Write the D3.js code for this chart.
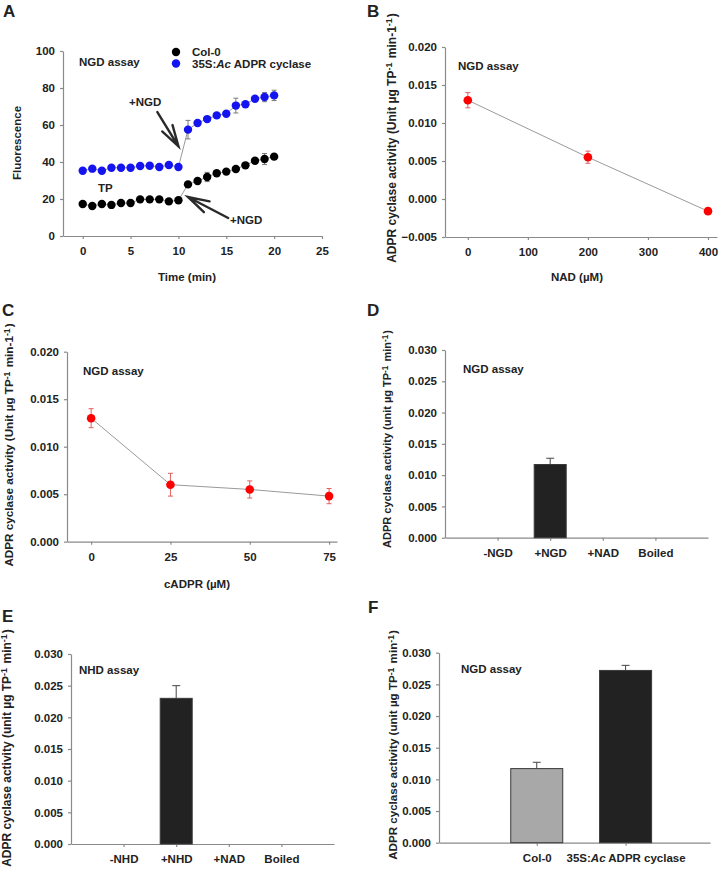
<!DOCTYPE html>
<html><head><meta charset="utf-8">
<script src="https://cdn.jsdelivr.net/npm/d3@7"></script>
<style>
body{margin:0;background:#fff}
svg text{font-family:"Liberation Sans",Arial,sans-serif;font-weight:bold;fill:#222}
</style>
</head><body><svg id="c" width="719" height="869"></svg>
<script>
// ---------- DATA ----------
// Panel A
const timeMin = [0,1,2,3,4,5,6,7,8,9,10,11,12,13,14,15,16,17,18,19,20];
const col0Fluor = [17.3,16.2,17.3,16.8,17.8,17.8,19.8,19.8,19.8,18.7,19.3,27.9,29.7,31.9,33.9,34.8,36.2,38.2,40.7,41.6,42.9];
const col0Err   = [1,1,1,1,1,1,1,1,1,1,1,1,1,2.5,1,1,1,1,1,3,1.5];
const acFluor   = [35.3,36.4,35.3,36.9,36.9,36.9,37.8,38.0,37.3,38.4,37.3,57.5,61.1,63.2,65.2,66.1,70.5,71.2,74.2,75.1,76.0];
const acErr     = [1,1,1,1,1,1,1,1,1,1,1,5,1,1,1,1,4,1.5,1,2.5,2.8];
const aXTicks = [0,5,10,15,20,25];
const aYTicks = [0,20,40,60,80,100];
// Panel B
const nadConc = [0,200,400];
const nadAct  = [0.0130,0.0055,-0.0016];
const nadErr  = [0.0010,0.0008,0.0003];
const bXTicks = [0,100,200,300,400];
const bYTicks = [-0.005,0,0.005,0.010,0.015,0.020];
// Panel C
const cadprConc = [0,25,50,75];
const cadprAct  = [0.0130,0.0060,0.0055,0.0048];
const cadprErr  = [0.0010,0.0012,0.0009,0.0008];
const cXTicks = [0,25,50,75];
const cYTicks = [0,0.005,0.010,0.015,0.020];
// Panel D
const dCats = ["-NGD","+NGD","+NAD","Boiled"];
const dVals = [0,0.0117,0,0];
const dErr  = [0,0.0010,0,0];
// Panel E
const eCats = ["-NHD","+NHD","+NAD","Boiled"];
const eVals = [0,0.0230,0,0];
const eErr  = [0,0.0020,0,0];
// Panel F
const fCats = ["Col-0","35S:Ac ADPR cyclase"];
const fVals = [0.0117,0.0272];
const fErr  = [0.0010,0.0008];
const barYTicks = [0,0.005,0.010,0.015,0.020,0.025,0.030];

// ---------- HELPERS ----------
const svg = d3.select("#c");
const AX = "#8a8a8a", FS = "11.5px";
const fmt3 = d3.format(".3f");

function styleAxis(g){
  g.select(".domain").attr("stroke",AX).attr("stroke-width",1.2);
  g.selectAll(".tick line").attr("stroke",AX).attr("stroke-width",1.2);
  g.selectAll(".tick text").style("font-size",FS).attr("fill","#222");
}
function drawAxes(x,y,xTicks,yTicks,yFmt,xFmt,xAt){
  const gx = svg.append("g").attr("transform",`translate(0,${xAt})`)
    .call(d3.axisBottom(x).tickValues(xTicks).tickFormat(xFmt).tickSize(3).tickSizeOuter(0).tickPadding(8));
  styleAxis(gx);
  const gy = svg.append("g").attr("transform",`translate(${x.range()[0]},0)`)
    .call(d3.axisLeft(y).tickValues(yTicks).tickFormat(yFmt).tickSize(3).tickSizeOuter(0).tickPadding(5));
  styleAxis(gy);
  return gx;
}
function label(txt,x,y,size){
  return svg.append("text").attr("x",x).attr("y",y).style("font-size",size||FS).text(txt);
}
function panelLetter(t,x,y){ label(t,x,y,"17px"); }
function yTitle(parts,cx,cy,size){
  const t = svg.append("text").attr("text-anchor","middle")
    .attr("transform",`translate(${cx},${cy}) rotate(-90)`).style("font-size",size);
  parts.forEach(p=>{
    if(p.sup){
      t.append("tspan").attr("dy","-0.4em").style("font-size","0.75em").text(p.t);
      t.append("tspan").attr("dy","0.3em").text("\u200A");
    } else t.append("tspan").text(p.t);
  });
  return t;
}
function errBars(xs,ys,es,x,y,color,cap){
  const g = svg.append("g").attr("stroke",color).attr("stroke-width",1).attr("fill","none");
  xs.forEach((xv,i)=>{
    if(!es[i]) return;
    const px=x(xv), y1=y(ys[i]-es[i]), y2=y(ys[i]+es[i]);
    g.append("line").attr("x1",px).attr("x2",px).attr("y1",y1).attr("y2",y2);
    g.append("line").attr("x1",px-cap).attr("x2",px+cap).attr("y1",y1).attr("y2",y1);
    g.append("line").attr("x1",px-cap).attr("x2",px+cap).attr("y1",y2).attr("y2",y2);
  });
}

// ---------- PANEL A ----------
{
  const x = d3.scaleLinear().domain([-2.06,25]).range([63,322]);
  const y = d3.scaleLinear().domain([0,100]).range([236,51]);
  drawAxes(x,y,aXTicks,aYTicks,d3.format("d"),d3.format("d"),236);
  const line = d3.line().x((d,i)=>x(timeMin[i])).y(d=>y(d));
  [[col0Fluor,col0Err,"#000"],[acFluor,acErr,"#1414f0"]].forEach(([vals,errs,col])=>{
    svg.append("path").datum(vals).attr("d",line).attr("fill","none").attr("stroke","#9a9a9a").attr("stroke-width",1);
    errBars(timeMin,vals,errs,x,y,"#7a7a7a",2.5);
    svg.append("g").selectAll("circle").data(vals).join("circle")
      .attr("cx",(d,i)=>x(timeMin[i])).attr("cy",d=>y(d)).attr("r",4.2).attr("fill",col);
  });
  // legend
  svg.append("circle").attr("cx",176).attr("cy",52).attr("r",4.2).attr("fill","#000");
  svg.append("circle").attr("cx",176).attr("cy",63.5).attr("r",4.2).attr("fill","#1414f0");
  label("Col-0",192,56);
  const l2 = label("",192,67.5);
  l2.append("tspan").text("35S:");
  l2.append("tspan").style("font-style","italic").text("Ac");
  l2.append("tspan").text(" ADPR cyclase");
  label("NGD assay",79,66);
  label("TP",98,192);
  label("+NGD",129,106);
  label("+NGD",230,224);
  // arrows (data coords)
  const arrows = [ {tail:[7.8,67], tip:[10.0,48.5]}, {tail:[15.2,9.7], tip:[11.0,21.1]} ];
  arrows.forEach(a=>{
    const tx=x(a.tail[0]), ty=y(a.tail[1]), hx=x(a.tip[0]), hy=y(a.tip[1]);
    const ang=Math.atan2(ty-hy,tx-hx), L=22, sp=0.28;
    const b1=[hx+L*Math.cos(ang+sp), hy+L*Math.sin(ang+sp)];
    const b2=[hx+L*Math.cos(ang-sp), hy+L*Math.sin(ang-sp)];
    svg.append("path").attr("d",`M${tx},${ty}L${hx},${hy}M${b1}L${hx},${hy}L${b2}`)
      .attr("fill","none").attr("stroke","#2a2a2a").attr("stroke-width",2.4).attr("stroke-linecap","round");
  });
  label("Fluorescence",0,0).attr("text-anchor","middle").attr("transform","translate(21,143) rotate(-90)");
  label("Time (min)",187,281).attr("text-anchor","middle");
  panelLetter("A",3,17);
}

// ---------- PANEL B ----------
{
  const x = d3.scaleLinear().domain([-38,415]).range([445,717]);
  const y = d3.scaleLinear().domain([-0.005,0.020]).range([237,47]);
  drawAxes(x,y,bXTicks,bYTicks,fmt3,d3.format("d"),237);
  svg.append("path").datum(nadAct).attr("d",d3.line().x((d,i)=>x(nadConc[i])).y(d=>y(d)))
    .attr("fill","none").attr("stroke","#9a9a9a").attr("stroke-width",1);
  errBars(nadConc,nadAct,nadErr,x,y,"#e06060",2.5);
  svg.append("g").selectAll("circle").data(nadAct).join("circle")
    .attr("cx",(d,i)=>x(nadConc[i])).attr("cy",d=>y(d)).attr("r",4.3).attr("fill","#ff0000");
  label("NGD assay",458,70);
  label("NAD (\u00b5M)",577,281).attr("text-anchor","middle");
  yTitle([{t:"ADPR cyclase activity (Unit \u00b5g TP"},{t:"-1",sup:1},{t:" min-1"},{t:"-1",sup:1},{t:")"}],396,138,"12px");
  panelLetter("B",367,17);
}

// ---------- PANEL C ----------
{
  const x = d3.scaleLinear().domain([-7.6,77.5]).range([67,337]);
  const y = d3.scaleLinear().domain([0,0.020]).range([541.7,351.7]);
  drawAxes(x,y,cXTicks,cYTicks,fmt3,d3.format("d"),541.7);
  svg.append("path").datum(cadprAct).attr("d",d3.line().x((d,i)=>x(cadprConc[i])).y(d=>y(d)))
    .attr("fill","none").attr("stroke","#9a9a9a").attr("stroke-width",1);
  errBars(cadprConc,cadprAct,cadprErr,x,y,"#e06060",2.5);
  svg.append("g").selectAll("circle").data(cadprAct).join("circle")
    .attr("cx",(d,i)=>x(cadprConc[i])).attr("cy",d=>y(d)).attr("r",4.3).attr("fill","#ff0000");
  label("NGD assay",83,375);
  label("cADPR (\u00b5M)",197,588).attr("text-anchor","middle");
  yTitle([{t:"ADPR cyclase activity (Unit \u00b5g TP"},{t:"-1",sup:1},{t:" min-1"},{t:"-1",sup:1},{t:")"}],13,445,"11.7px");
  panelLetter("C",2,316);
}

// ---------- BAR PANELS ----------
function barPanel(cats,vals,errs,xr,yTop,yBot,domain,barW,fills,title,tx,ty,lx,ly,lsize,letter,lpx,lpy){
  const x = d3.scaleLinear().domain(domain).range(xr);
  const pos = cats.map((c,i)=>i+1);
  const y = d3.scaleLinear().domain([0,0.030]).range([yBot,yTop]);
  const gx = svg.append("g").attr("transform",`translate(0,${yBot})`)
    .call(d3.axisBottom(x).tickValues(pos).tickFormat((d,i)=>cats[i]).tickSize(3).tickSizeOuter(0).tickPadding(8));
  styleAxis(gx);
  const gy = svg.append("g").attr("transform",`translate(${xr[0]},0)`)
    .call(d3.axisLeft(y).tickValues(barYTicks).tickFormat(fmt3).tickSize(3).tickSizeOuter(0).tickPadding(5));
  styleAxis(gy);
  svg.append("g").selectAll("rect").data(vals).join("rect")
    .attr("x",(d,i)=>x(pos[i])-barW/2).attr("width",barW)
    .attr("y",d=>y(d)).attr("height",d=>yBot-y(d))
    .attr("fill",(d,i)=>fills[i]).attr("stroke",(d,i)=>d>0?"#3a3a3a":"none").attr("stroke-width",1);
  const ge = svg.append("g").attr("stroke","#444").attr("stroke-width",1);
  vals.forEach((v,i)=>{
    if(!errs[i]) return;
    const px=x(pos[i]);
    ge.append("line").attr("x1",px).attr("x2",px).attr("y1",y(v)).attr("y2",y(v+errs[i]));
    ge.append("line").attr("x1",px-4).attr("x2",px+4).attr("y1",y(v+errs[i])).attr("y2",y(v+errs[i]));
  });
  label(title,tx,ty);
  yTitle([{t:"ADPR cyclase activity (unit \u00b5g TP"},{t:"-1",sup:1},{t:" min"},{t:"-1",sup:1},{t:")"}],lx,ly,lsize);
  panelLetter(letter,lpx,lpy);
  return gx;
}
barPanel(dCats,dVals,dErr,[445,708],350,537.7,[0,5],32,["#222","#222","#222","#222"],"NGD assay",463,373,391,439,"11px","D",367,316);
barPanel(eCats,eVals,eErr,[71,334],654,844,[0,5],32,["#222","#222","#222","#222"],"NHD assay",79,674,11,748,"12px","E",2,622);
const gf = barPanel(fCats,fVals,fErr,[439,710],652.7,842.7,[-0.1,2.95],52,["#a8a8a8","#222"],"NGD assay",461,673,397,745,"11.6px","F",368,613);
gf.selectAll(".tick text").filter((d,i)=>i===1).each(function(){
  const t=d3.select(this); t.text("");
  t.append("tspan").text("35S:");
  t.append("tspan").style("font-style","italic").text("Ac");
  t.append("tspan").text(" ADPR cyclase");
});
</script></body></html>
